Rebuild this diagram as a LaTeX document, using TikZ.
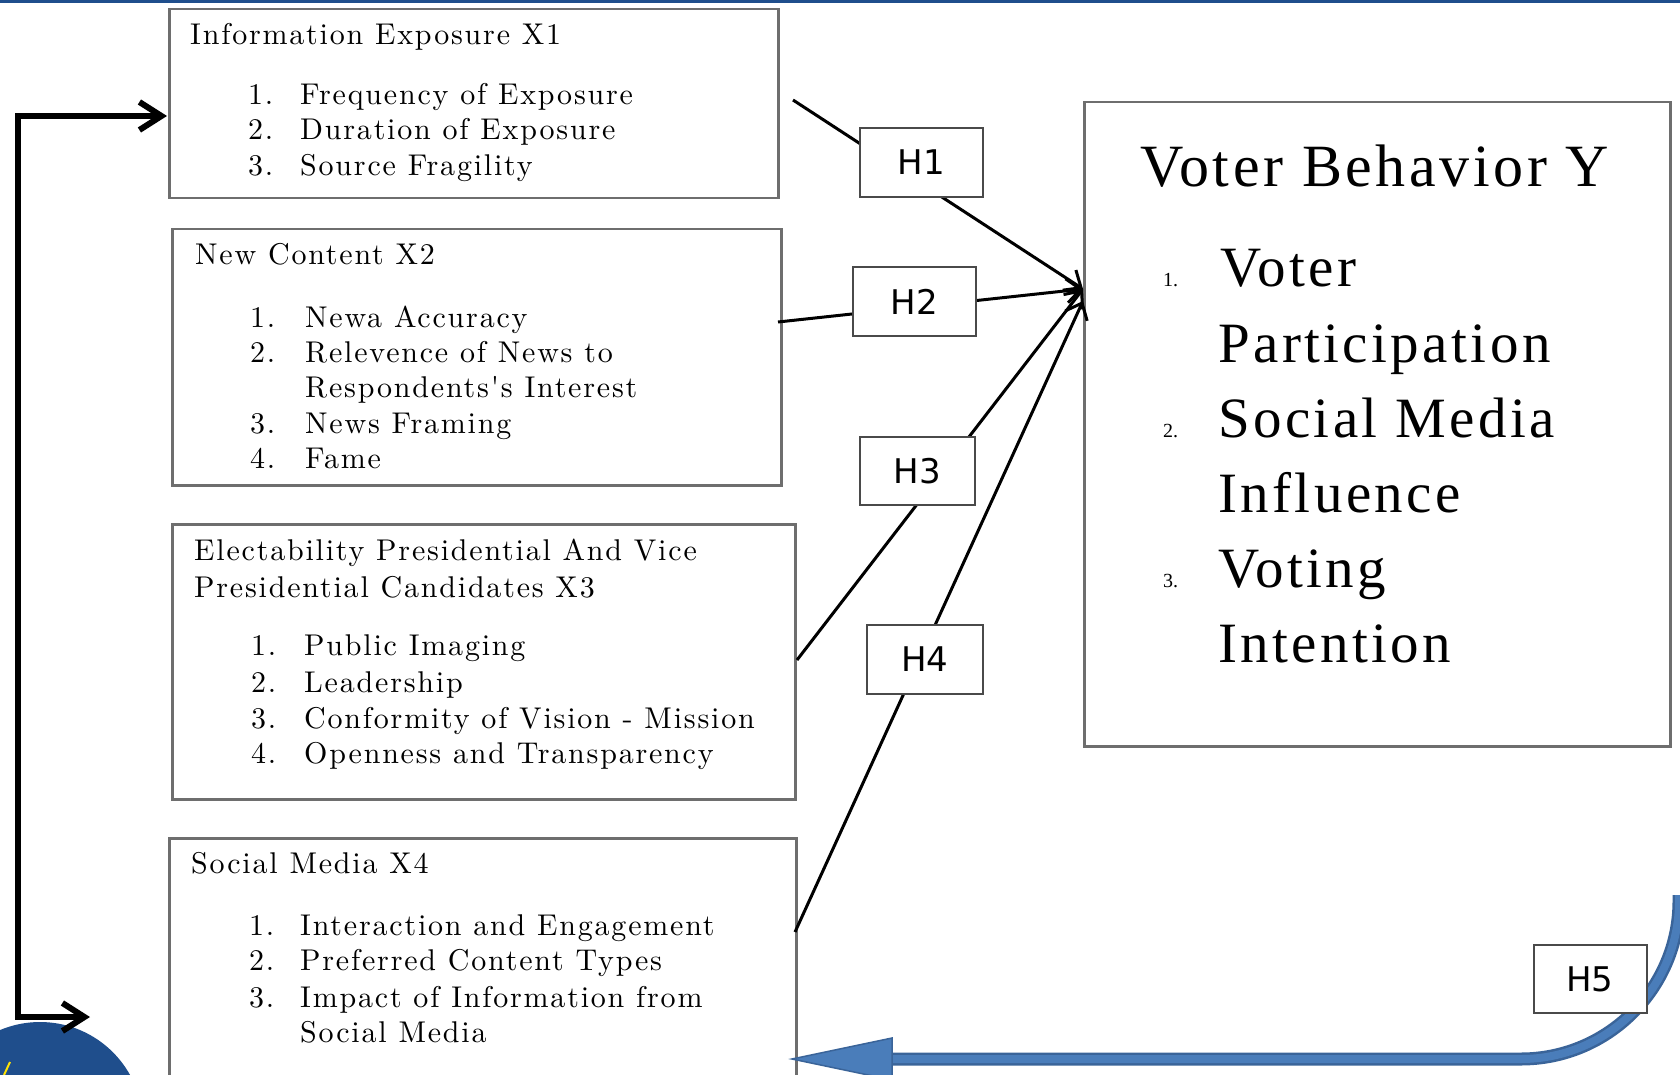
\documentclass[tikz,border=0pt]{standalone}
\usepackage{fontspec}
\newfontfamily\lmx{lmroman10-regular}[Extension=.otf,LetterSpace=6]
\newfontfamily\ysf{Liberation Serif}[LetterSpace=6]
\newfontfamily\ynum{Liberation Serif}
\newfontfamily\hsf{DejaVu Sans}
\usetikzlibrary{arrows.meta}
\definecolor{topblue}{HTML}{1F4E8C}
\definecolor{bluedark}{HTML}{3A6499}
\definecolor{bluefill}{HTML}{4A7DBA}
\definecolor{boxgray}{HTML}{6E6E6E}
\definecolor{hgray}{HTML}{4A4A4A}
\begin{document}
\begin{tikzpicture}[x=1pt,y=-1pt,
  xbox/.style={draw=boxgray, line width=2.5pt, fill=white, anchor=north west, inner sep=0pt},
  hbox/.style={draw=hgray, line width=2pt, fill=white, inner sep=0pt, font=\hsf\fontsize{34}{40}\selectfont},
  xt/.style={anchor=base west, inner sep=0pt, font=\lmx\fontsize{30}{36}\selectfont},
  yt/.style={anchor=base west, inner sep=0pt, font=\ysf\fontsize{57}{60}\selectfont},
  ytitle/.style={anchor=base west, inner sep=0pt, font=\ysf\fontsize{60}{64}\selectfont},
  ynm/.style={anchor=base west, inner sep=0pt, font=\ynum\fontsize{20}{24}\selectfont},
  conn/.style={line width=3pt, black, -{Straight Barb[length=14pt,width=24pt]}},
  lconn/.style={line width=6pt, black, line join=miter, {Straight Barb[length=22pt,width=28pt]}-{Straight Barb[length=22pt,width=28pt]}}
]
\useasboundingbox (0,0) rectangle (1680,1075);
\clip (0,0) rectangle (1680,1075);
\fill[white] (0,0) rectangle (1680,1075);
% top band and logo fragment
\fill[topblue] (0,0) rectangle (1680,3);
\fill[topblue] (40,1125) circle [radius=103pt];
\draw[yellow!85!orange, line width=2pt] (4,1075) -- (10,1062);

% boxes
\node[xbox, minimum width=609pt, minimum height=189pt] (X1) at (168,8) {};
\node[xbox, minimum width=609pt, minimum height=256pt] (X2) at (171,228) {};
\node[xbox, minimum width=623pt, minimum height=275pt] (X3) at (171,523) {};
\node[xbox, minimum width=627pt, minimum height=300pt] (X4) at (168,837) {};
\node[xbox, minimum width=586pt, minimum height=644pt] (Y) at (1083,101) {};

% X1 text
\node[xt] (x1t) at (190,45) {Information Exposure X1};
\node[xt] (x1n1) at (248,105) {1.};
\node[xt] (x1i1) at (300,105) {Frequency of Exposure};
\node[xt] (x1n2) at (248,140) {2.};
\node[xt] (x1i2) at (300,140) {Duration of Exposure};
\node[xt] (x1n3) at (248,176) {3.};
\node[xt] (x1i3) at (300,176) {Source Fragility};

% X2 text
\node[xt] (x2t) at (195,265) {New Content X2};
\node[xt] (x2n1) at (250,327) {1.};
\node[xt] (x2i1) at (305,327) {Newa Accuracy};
\node[xt] (x2n2) at (250,362) {2.};
\node[xt] (x2i2) at (305,362) {Relevence of News to};
\node[xt] (x2i2b) at (305,397) {Respondents's Interest};
\node[xt] (x2n3) at (250,433) {3.};
\node[xt] (x2i3) at (305,433) {News Framing};
\node[xt] (x2n4) at (250,468) {4.};
\node[xt] (x2i4) at (305,468) {Fame};

% X3 text
\node[xt] (x3t) at (194,560) {Electability Presidential And Vice};
\node[xt] (x3tb) at (194,597) {Presidential Candidates X3};
\node[xt] (x3n1) at (251,655) {1.};
\node[xt] (x3i1) at (304,655) {Public Imaging};
\node[xt] (x3n2) at (251,692) {2.};
\node[xt] (x3i2) at (304,692) {Leadership};
\node[xt] (x3n3) at (251,728) {3.};
\node[xt] (x3i3) at (304,728) {Conformity of Vision - Mission};
\node[xt] (x3n4) at (251,763) {4.};
\node[xt] (x3i4) at (304,763) {Openness and Transparency};

% X4 text
\node[xt] (x4t) at (191,873) {Social Media X4};
\node[xt] (x4n1) at (249,935) {1.};
\node[xt] (x4i1) at (300,935) {Interaction and Engagement};
\node[xt] (x4n2) at (249,970) {2.};
\node[xt] (x4i2) at (300,970) {Preferred Content Types};
\node[xt] (x4n3) at (249,1007) {3.};
\node[xt] (x4i3) at (300,1007) {Impact of Information from};
\node[xt] (x4i3b) at (300,1042) {Social Media};

% Y text
\node[ytitle] (yt) at (1140,187) {Voter Behavior Y};
\node[ynm] (yn1) at (1163,287) {1.};
\node[yt] (yi1) at (1220,287) {Voter};
\node[yt] (yi1b) at (1218,362) {Participation};
\node[ynm] (yn2) at (1163,437) {2.};
\node[yt] (yi2) at (1218,437) {Social Media};
\node[yt] (yi2b) at (1218,512) {Influence};
\node[ynm] (yn3) at (1163,587) {3.};
\node[yt] (yi3) at (1218,587) {Voting};
\node[yt] (yi3b) at (1218,662) {Intention};

% connector endpoints
\coordinate (s1) at (793,100);
\coordinate (s2) at (778,322);
\coordinate (s3) at (797,660);
\coordinate (s4) at (795,932);
\coordinate (tipA) at (1083,289);
\coordinate (tipB) at (1083,301);

\draw[conn] (s1) -- (tipA);
\draw[conn] (s2) -- (tipA);
\draw[conn] (s3) -- (tipA);
\draw[conn] (s4) -- (tipB);

% left feedback connector
\coordinate (lb) at (90,1017);
\coordinate (lc1) at (18,1017);
\coordinate (lc2) at (18,116);
\coordinate (la) at (167,116);
\draw[lconn] (lb) -- (lc1) -- (lc2) -- (la);

% blue H5 arrow
\coordinate (b0) at (1679,895);
\coordinate (b1) at (1679,901);
\coordinate (b2) at (1521,1059);
\coordinate (b3) at (893,1059);
\coordinate (btip) at (792,1059);
\draw[bluedark, line width=13pt] (b0) -- (b1) .. controls (1679,988) and (1608,1059) .. (b2) -- (b3);
\filldraw[fill=bluefill, draw=bluedark, line width=1.5pt, line join=miter] (892,1038) -- (btip) -- (892,1080) -- cycle;
\draw[bluefill, line width=8pt] (b0) -- (b1) .. controls (1679,988) and (1608,1059) .. (b2) -- (b3);

% H boxes
\node[hbox, minimum width=123pt, minimum height=69pt] (H1) at (921.5,162.5) {H1};
\node[hbox, minimum width=123pt, minimum height=69pt] (H2) at (914.5,301.5) {H2};
\node[hbox, minimum width=115pt, minimum height=68pt] (H3) at (917.5,471) {H3};
\node[hbox, minimum width=116pt, minimum height=69pt] (H4) at (925,659.5) {H4};
\node[hbox, minimum width=113pt, minimum height=68pt] (H5) at (1590,979) {H5};
\end{tikzpicture}
\end{document}
